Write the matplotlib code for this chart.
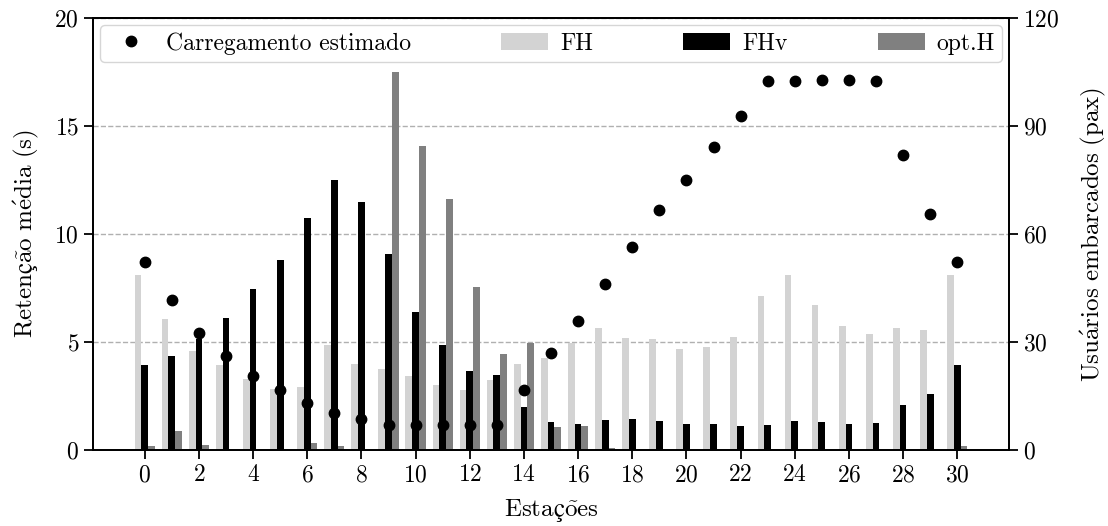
#!/usr/bin/env python
# -*- coding: utf-8 -*-
import sys
import numpy as np
import matplotlib
matplotlib.use('Agg')
import matplotlib.pyplot as plt

stations = list(range(31))
fh = [8.10, 6.06, 4.60, 3.94, 3.29, 2.82, 2.92, 4.86, 3.98, 3.75, 3.43,
      3.01, 2.78, 3.24, 3.98, 4.26, 4.97, 5.65, 5.19, 5.14, 4.68, 4.77,
      5.23, 7.13, 8.10, 6.71, 5.74, 5.37, 5.65, 5.55, 8.10]
fhv = [3.94, 4.35, 5.14, 6.11, 7.45, 8.80, 10.74, 12.50, 11.48, 9.07, 6.39,
       4.86, 3.66, 3.47, 1.99, 1.30, 1.20, 1.39, 1.44, 1.34, 1.20, 1.20,
       1.11, 1.16, 1.34, 1.30, 1.20, 1.25, 2.08, 2.59, 3.94]
opt_h = [0.18, 0.88, 0.23, 0.0, 0.0, 0.0, 0.32, 0.18, 0.0, 17.50, 14.07,
         11.62, 7.55, 4.44, 4.97, 1.06, 1.11, 0.09, 0.0, 0.0, 0.0, 0.0,
         0.0, 0.0, 0.0, 0.0, 0.0, 0.0, 0.0, 0.0, 0.18]
carregamento = [52.3, 41.8, 32.6, 26.2, 20.6, 16.7, 13.1, 10.3, 8.5, 6.9,
                6.9, 6.9, 6.9, 6.9, 16.7, 27.0, 35.8, 46.1, 56.3, 66.6, 75.0,
                84.1, 92.9, 102.6, 102.6, 102.8, 102.8, 102.4, 82.0, 65.5, 52.3]


def main():
  plt.rcParams['font.family'] = ['cmr10', 'DejaVu Serif']
  plt.rcParams['mathtext.fontset'] = 'cm'
  plt.rcParams['axes.formatter.use_mathtext'] = True
  plt.rcParams['font.size'] = 17
  plt.rcParams['axes.linewidth'] = 1.3
  for a in ('xtick', 'ytick'):
    plt.rcParams[a + '.major.size'] = 6.5
    plt.rcParams[a + '.major.width'] = 1.3

  x = np.array(stations)
  w = 0.25

  fig = plt.figure(figsize=(11.08, 5.26), dpi=100)
  ax = fig.add_axes([0.0839, 0.1445, 0.8268, 0.8213])
  ax2 = ax.twinx()

  b1 = ax.bar(x - w, fh, w, color='#d3d3d3', label='FH')
  b2 = ax.bar(x, fhv, w, color='black', label='FHv')
  b3 = ax.bar(x + w, opt_h, w, color='#808080', label='opt.H')
  ax.set_ylim(0, 20)
  ax.set_yticks([0, 5, 10, 15, 20])
  ax.set_xticks(range(0, 31, 2))
  ax.yaxis.grid(True, linestyle='--', color='#b0b0b0', linewidth=1.0)
  ax.set_axisbelow(True)
  # accents via mathtext so they keep the Computer Modern look
  ax.set_xlabel(r'$\mathrm{Estaç\tilde{o}es}$', fontsize=18, labelpad=8)
  ax.set_ylabel(r'$\mathrm{Retenç\tilde{a}o\ m\acute{e}dia\ (s)}$',
                fontsize=18, labelpad=10)

  d, = ax2.plot(x, carregamento, 'o', color='black', markersize=7.5,
                label='Carregamento estimado')
  ax2.set_ylim(0, 120)
  ax2.set_yticks([0, 30, 60, 90, 120])
  ax2.set_ylabel(r'$\mathrm{Usu\acute{a}rios\ embarcados\ (pax)}$',
                 fontsize=18, labelpad=14)

  ax2.legend([d, b1, b2, b3], ['Carregamento estimado', 'FH', 'FHv', 'opt.H'],
             loc='upper left', bbox_to_anchor=(0, 0, 1, 1), mode='expand',
             ncol=4, numpoints=1, fontsize=17, borderaxespad=0.3,
             borderpad=0.3, handletextpad=0.5)

  fig.savefig('out.png', dpi=100)


if __name__ == "__main__":
  sys.exit(main())
